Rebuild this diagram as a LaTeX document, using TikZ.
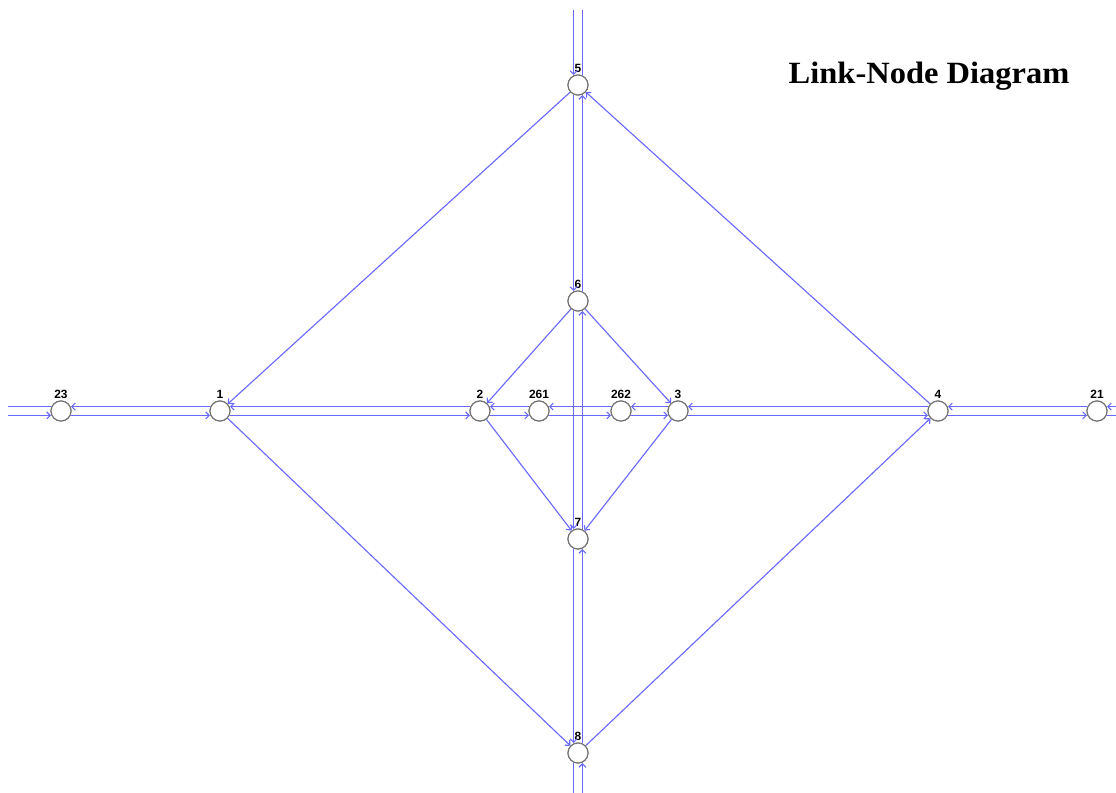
\documentclass[tikz,border=0pt]{standalone}
\usepackage{fontspec}
\setmainfont{Liberation Serif}
\setsansfont{Liberation Sans}
\usetikzlibrary{arrows.meta,calc}

\definecolor{linkblue}{RGB}{105,105,255}
\definecolor{ringgray}{RGB}{115,115,115}

% one directed link, drawn on the right-hand side of the road
\newcommand\roadlink[3][link]{%
  \draw[#1] ($($(#2)!0.25cm!(#3)$)!0.11cm!-90:(#3)$) --
            ($($(#3)!0.25cm!(#2)$)!0.11cm!90:(#2)$);}

\begin{document}
\begin{tikzpicture}[x=0.025cm, y=-0.025cm,
    junction/.style={
      circle,
      draw=ringgray, line width=0.8pt,
      fill=white,
      minimum size=0.5cm,
      inner sep=0pt
    },
    lbl/.style={
      font=\sffamily\bfseries\fontsize{8.5}{9}\selectfont,
      inner sep=1pt
    },
    link/.style={
      draw=linkblue, line width=0.8pt,
      -{Straight Barb[length=2.5pt,width=5pt]}
    },
    stub/.style={
      draw=linkblue, line width=0.8pt
    }
  ]
  \useasboundingbox[fill=white] (0,0) rectangle (1116,792);

  % edges of the drawing
  \coordinate (wL) at (-2,411);
  \coordinate (wR) at (1140,411);
  \coordinate (wT) at (578,0);
  \coordinate (wB) at (578,815);

  % junctions
  \node[junction, label={[lbl]above:23}] (n23) at (61,411) {};
  \node[junction, label={[lbl]above:1}] (n1) at (220,411) {};
  \node[junction, label={[lbl]above:2}] (n2) at (480,411) {};
  \node[junction, label={[lbl]above:261}] (n261) at (539,411) {};
  \node[junction, label={[lbl]above:262}] (n262) at (621,411) {};
  \node[junction, label={[lbl]above:3}] (n3) at (678,411) {};
  \node[junction, label={[lbl]above:4}] (n4) at (938,411) {};
  \node[junction, label={[lbl]above:21}] (n21) at (1097,411) {};
  \node[junction, label={[lbl]above:5}] (n5) at (578,85) {};
  \node[junction, label={[lbl]above:6}] (n6) at (578,301) {};
  \node[junction, label={[lbl]above:7}] (n7) at (578,539) {};
  \node[junction, label={[lbl]above:8}] (n8) at (578,753) {};

  % two-way links
  \foreach \a/\b in {n23/n1, n1/n2, n2/n261, n261/n262, n262/n3, n3/n4,
                     n4/n21, n5/n6, n6/n7, n7/n8} {
    \roadlink{\a}{\b}
    \roadlink{\b}{\a}
  }
  \roadlink{wL}{n23}
  \roadlink[stub]{n23}{wL}
  \roadlink{wR}{n21}
  \roadlink[stub]{n21}{wR}
  \roadlink{wT}{n5}
  \roadlink[stub]{n5}{wT}
  \roadlink{wB}{n8}
  \roadlink[stub]{n8}{wB}

  % one-way links
  \draw[link] (n5) -- (n1);
  \draw[link] (n4) -- (n5);
  \draw[link] (n1) -- (n8);
  \draw[link] (n8) -- (n4);
  \draw[link] (n6) -- (n2);
  \draw[link] (n6) -- (n3);
  \draw[link] (n2) -- (n7);
  \draw[link] (n3) -- (n7);

  % redraw junctions on top of the links
  \foreach \n in {n23,n1,n2,n261,n262,n3,n4,n21,n5,n6,n7,n8}
    \draw[ringgray, line width=0.8pt, fill=white] (\n) circle[radius=0.25cm];

  \node[font=\rmfamily\bfseries\fontsize{22}{24}\selectfont, anchor=base,
        xscale=1.05, transform shape]
    (title) at (929,83) {Link-Node Diagram};
\end{tikzpicture}
\end{document}
